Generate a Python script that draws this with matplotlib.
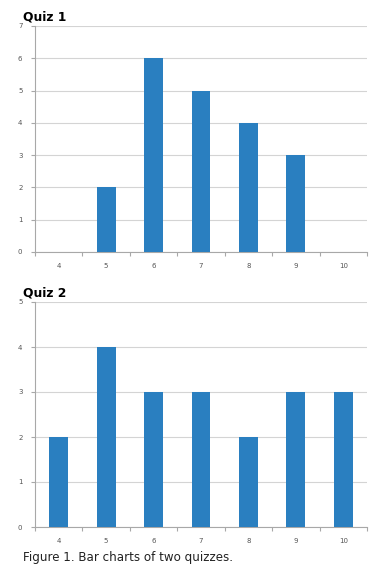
import numpy as np
import matplotlib.pyplot as plt

categories = ['4', '5', '6', '7', '8', '9', '10']
quiz1 = [0, 2, 6, 5, 4, 3, 0]
quiz2 = [2, 4, 3, 3, 2, 3, 3]

W, H = 392, 573
bar_color = '#2a7fc0'
grid_color = '#d4d4d4'
axis_color = '#a8a8a8'
label_color = '#555555'


def draw_quiz(ax, values, ymax, title):
    x = np.arange(len(categories))
    ax.bar(x, values, width=0.4, color=bar_color, zorder=3)
    ax.set_xlim(-0.5, len(categories) - 0.5)
    ax.set_ylim(0, ymax)
    ax.set_yticks(range(ymax + 1))
    ax.set_xticks(x)
    ax.set_xticklabels(categories)
    ax.set_xticks(np.arange(-0.5, len(categories)), minor=True)
    ax.tick_params(axis='x', which='major', length=0, pad=8, labelsize=5, labelcolor=label_color)
    ax.tick_params(axis='x', which='minor', length=3, color=axis_color, width=0.8)
    ax.tick_params(axis='y', length=3, color=axis_color, width=0.8, pad=6, labelsize=5, labelcolor=label_color)
    ax.grid(axis='y', color=grid_color, linewidth=0.8, zorder=0)
    for s in ['top', 'right']:
        ax.spines[s].set_visible(False)
    for s in ['left', 'bottom']:
        ax.spines[s].set_color(axis_color)
        ax.spines[s].set_linewidth(0.8)
    ax.set_title(title, loc='left', x=-0.035, y=1.0, pad=4, fontsize=8.8, fontweight='bold')


fig = plt.figure(figsize=(W / 100, H / 100), dpi=100)

ax1 = fig.add_axes([35 / W, (H - 252) / H, 332 / W, (252 - 26) / H])
draw_quiz(ax1, quiz1, 7, 'Quiz 1')

ax2 = fig.add_axes([35 / W, (H - 527) / H, 332 / W, (527 - 302) / H])
draw_quiz(ax2, quiz2, 5, 'Quiz 2')

fig.text(23 / W, 1 - 558 / H, 'Figure 1. Bar charts of two quizzes.', fontsize=8.6,
         va='center', ha='left', color='#222222')

fig.savefig('out.png', dpi=100)
